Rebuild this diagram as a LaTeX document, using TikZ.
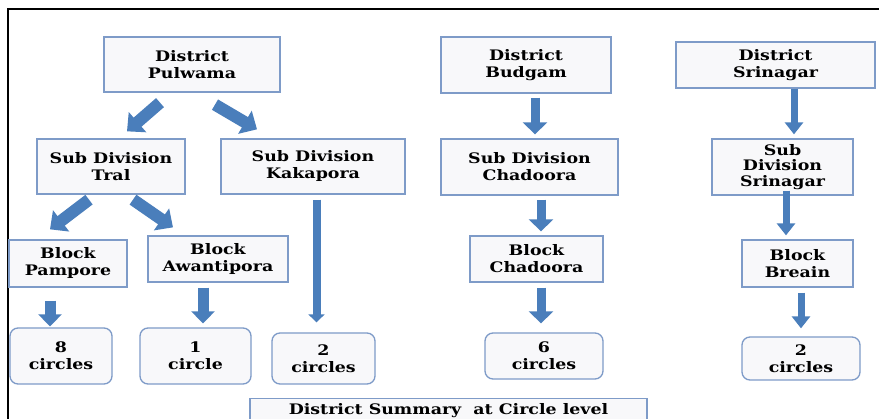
\documentclass[tikz,border=0pt]{standalone}
\usepackage{fontspec}
\setmainfont{DejaVu Serif}[FakeStretch=1.2]
\usetikzlibrary{arrows.meta,calc}
\definecolor{boxedge}{HTML}{7E9BC8}
\definecolor{boxfill}{HTML}{F8F8FA}
\definecolor{arrowblue}{HTML}{4A7EBB}
\tikzset{
  box/.style={draw=boxedge, fill=boxfill, line width=1.3pt, align=center, inner sep=0pt,
    font=\bfseries\fontsize{14.5}{17}\selectfont},
  rbox/.style={box, rounded corners=8pt},
  barrow/.style n args={3}{draw=arrowblue, line width=#1, -{Triangle[width=#2,length=#3]}},
}
\begin{document}
\begin{tikzpicture}[x=1pt,y=-1pt]
\useasboundingbox (0,0) rectangle (879,419);
\clip (0,0) rectangle (879,419);
\fill[white] (0,0) rectangle (879,419);
\draw[line width=2.5pt] (8,422) -- (8,9) -- (882,9);

% boxes
\node[box, minimum width=176pt, minimum height=55pt] (pul) at (192,64.5) {District\\Pulwama};
\node[box, minimum width=148pt, minimum height=55pt] (tral) at (111,166.5) {Sub Division\\Tral};
\node[box, minimum width=184pt, minimum height=55pt] (kak) at (313,166.5) {Sub Division\\Kakapora};
\node[box, minimum width=170pt, minimum height=56pt] (bud) at (526,65) {District\\Budgam};
\node[box, minimum width=199pt, minimum height=46pt] (sri) at (775.5,65) {District\\Srinagar};
\node[box, minimum width=177pt, minimum height=56pt] (subcha) at (529.5,167) {Sub Division\\Chadoora};
\node[box, minimum width=141pt, minimum height=56pt, font=\bfseries\fontsize{14.5}{15.5}\selectfont] (subsri) at (782.5,167) {Sub\\Division\\Srinagar};
\node[box, minimum width=118pt, minimum height=47pt] (pam) at (68,263.5) {Block\\Pampore};
\node[box, minimum width=140pt, minimum height=46pt] (awa) at (218,259) {Block\\Awantipora};
\node[box, minimum width=133pt, minimum height=46pt] (bcha) at (536.5,259) {Block\\Chadoora};
\node[box, minimum width=111pt, minimum height=47pt] (bbr) at (797.5,263.5) {Block\\Breain};
\node[rbox, minimum width=102pt, minimum height=56pt] (c8) at (61,356) {8\\circles};
\node[rbox, minimum width=111pt, minimum height=56pt] (c1) at (195.5,356) {1\\circle};
\node[rbox, minimum width=103pt, minimum height=51pt] (c2k) at (323.5,358.5) {2\\circles};
\node[rbox, minimum width=118pt, minimum height=46pt] (c6) at (544,356) {6\\circles};
\node[rbox, minimum width=118pt, minimum height=43pt] (c2s) at (801,358.5) {2\\circles};
\node[box, minimum width=397pt, anchor=north, inner ysep=5pt] (sum) at (448.5,398) {District Summary\ \ at Circle level};

% arrows
\draw[barrow={12pt}{26pt}{14pt}] ($(pul.south)+(-32,10)$) -- ($(tral.north)+(16,-7)$);
\draw[barrow={12pt}{26pt}{14pt}] ($(pul.south)+(23,12)$) -- ($(kak.north)+(-56,-9)$);
\draw[barrow={12pt}{26pt}{14pt}] ($(tral.south)+(-22,5)$) -- ($(pam.north)+(-18,-10)$);
\draw[barrow={12pt}{26pt}{14pt}] ($(tral.south)+(22,5)$) -- ($(awa.north)+(-45,-8)$);
\draw[barrow={11pt}{23pt}{12pt}] ($(pam.south)+(-18,13)$) -- ($(c8.north)+(-11,-1)$);
\draw[barrow={11pt}{23pt}{12pt}] ($(awa.south)+(-15,5)$) -- ($(c1.north)+(7.5,-4)$);
\draw[barrow={8pt}{16pt}{8pt}] ($(kak.south)+(3.5,5)$) -- ($(c2k.north)+(-7,-10)$);
\draw[barrow={9pt}{24pt}{12pt}] ($(bud.south)+(9,4)$) -- ($(subcha.north)+(5.5,-4)$);
\draw[barrow={9pt}{24pt}{12pt}] ($(subcha.south)+(11.5,4)$) -- ($(bcha.north)+(4.5,-4)$);
\draw[barrow={9pt}{24pt}{12pt}] ($(bcha.south)+(4.5,5)$) -- ($(c6.north)+(-3,-9)$);
\draw[barrow={7pt}{18pt}{12pt}] ($(sri.south)+(18.5,0)$) -- ($(subsri.north)+(11.5,-4)$);
\draw[barrow={7pt}{18pt}{12pt}] ($(subsri.south)+(3.5,-5)$) -- ($(bbr.north)+(-11.5,-4)$);
\draw[barrow={7pt}{18pt}{12pt}] ($(bbr.south)+(3.5,5)$) -- ($(c2s.north)+(0,-8)$);
\end{tikzpicture}
\end{document}
